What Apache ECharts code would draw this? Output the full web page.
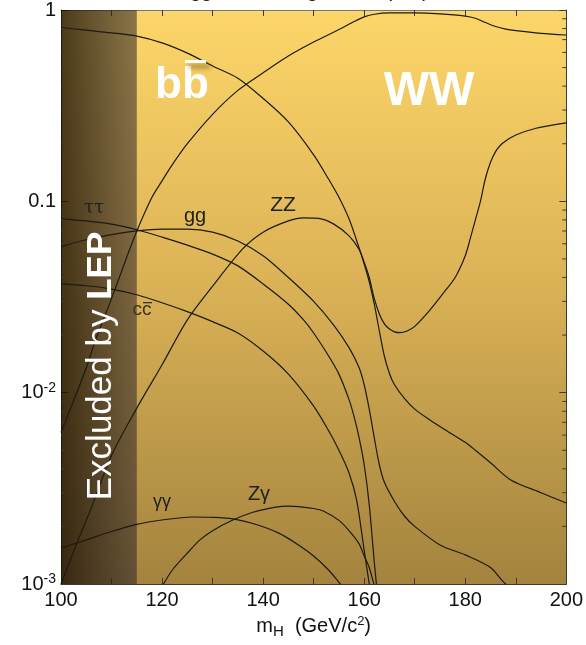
<!DOCTYPE html>
<html><head><meta charset="utf-8">
<script src="https://cdn.jsdelivr.net/npm/echarts@6/dist/echarts.min.js"></script>
<style>html,body{margin:0;padding:0;background:#fff}#c{width:586px;height:645px}</style>
</head><body><div id="c"></div>
<script>
// ---- data (Higgs branching ratios vs mass) ----
const bbMass = [100,105,110,115,120,125,130,135,140,145,150,153,155,157,159,160,161,162,163,164,165,166,168,170,173,176,180,182,185,189,195,200];
const bbBR   = [0.81,0.785,0.76,0.73,0.673,0.595,0.51,0.44,0.345,0.26,0.175,0.13,0.105,0.081,0.057,0.047,0.038,0.029,0.021,0.0155,0.0126,0.011,0.0093,0.0082,0.0072,0.0064,0.0055,0.005,0.0043,0.0035,0.003,0.00265];
const wwMass = [100,103,105,107,110,113,115,118,120,122,125,130,135,140,145,150,155,158,160,162,165,170,175,180,182,184,186,188,190,195,200];
const wwBR   = [0.0062,0.0098,0.0135,0.0194,0.031,0.051,0.07,0.105,0.128,0.155,0.20,0.285,0.38,0.47,0.575,0.68,0.79,0.87,0.92,0.95,0.965,0.965,0.955,0.93,0.905,0.86,0.82,0.795,0.78,0.755,0.74];
const zzMass = [100,103,106,110,115,120,125,130,136,140,145,148,151,154,157,159,160,161,162,163,164,165,166,167,168.5,170,173,176,178,180,181,182,183,184,185,186,187,188,190,194,200];
const zzBR   = [0.001,0.0016,0.0025,0.0047,0.0083,0.014,0.024,0.036,0.0566,0.069,0.079,0.082,0.0815,0.076,0.066,0.056,0.048,0.040,0.031,0.0258,0.0229,0.0215,0.0208,0.0206,0.021,0.0222,0.027,0.034,0.040,0.052,0.064,0.080,0.100,0.132,0.160,0.182,0.197,0.207,0.222,0.241,0.257];
const ttMass = [100,105,110,115,120,125,130,135,140,145,148,150,153,155,157,158,159,160,161,162,163];
const ttBR   = [0.081,0.079,0.076,0.071,0.065,0.059,0.053,0.046,0.037,0.029,0.024,0.0205,0.0155,0.0125,0.0092,0.0075,0.0058,0.0042,0.0026,0.0013,0.0007];
const ggMass = [100,105,110,115,120,125,130,135,140,145,150,154,157,159,160,161,162,163,164,166,168,170,175,180,185,188,192,200];
const ggBR   = [0.058,0.063,0.067,0.070,0.0715,0.0715,0.069,0.062,0.052,0.040,0.030,0.0225,0.0172,0.0135,0.011,0.0082,0.0058,0.0042,0.0034,0.0027,0.00226,0.002,0.0016,0.00142,0.00122,0.001,0.0009,0.00075];
const ccMass = [100,105,110,115,120,125,130,135,140,145,150,153,155,157,158.5,160,161,162];
const ccBR   = [0.037,0.0362,0.0348,0.0325,0.0295,0.0265,0.0235,0.0205,0.0165,0.0125,0.0085,0.0063,0.005,0.0038,0.00275,0.0015,0.001,0.0007];
const aaMass = [100,105,110,115,120,126,130,134,138,143,147,150,153,155,157,159];
const aaBR   = [0.00154,0.0017,0.00188,0.00205,0.00216,0.00224,0.00223,0.00219,0.00207,0.00185,0.0016,0.0014,0.00118,0.00102,0.00088,0.0007];
const zaMass = [119.5,122,125,127.5,130,134,138,142.5,145,147,150,152,155,157,159,160,161,162,163];
const zaBR   = [0.00092,0.00118,0.00145,0.0017,0.0019,0.00216,0.00237,0.00252,0.00255,0.00254,0.00248,0.0024,0.00215,0.0019,0.00162,0.0014,0.00122,0.00098,0.0008];

const xTickLabels = ['100','120','140','160','180','200'];
const yTickValues = [0.001, 0.01, 0.1, 1];
const yTickLabels = ['10^-3', '10^-2', '0.1', '1'];
const yMinorTicks = [0.002,0.003,0.004,0.005,0.006,0.007,0.008,0.009,
                     0.02,0.03,0.04,0.05,0.06,0.07,0.08,0.09,
                     0.2,0.3,0.4,0.5,0.6,0.7,0.8,0.9];
const lepLimit = 115;
const massMin = 100, massMax = 200;

// ---- chart ----
const chart = echarts.init(document.getElementById('c'), null, {renderer:'canvas'});
const LG = echarts.graphic.LinearGradient;
const lineColor = '#1d1a12';

function curve(name, xs, ys) {
  return {
    type: 'line', name: name,
    data: xs.map((x, i) => [x, ys[i]]),
    showSymbol: false, symbol: 'none', smooth: 0.3,
    lineStyle: {color: lineColor, width: 1.2}, z: 3, silent: true, clip: true
  };
}

function yFmt(v) {
  let idx = -1;
  yTickValues.forEach((t, i) => { if (Math.abs(Math.log10(v) - Math.log10(t)) < 1e-6) idx = i; });
  if (idx < 0) return '';
  const s = yTickLabels[idx];
  if (s.indexOf('^') >= 0) {
    const p = s.split('^');
    return '{n|' + p[0] + '}{s|' + p[1] + '}';
  }
  return '{n|' + s + '}';
}

const axisLine = {show: true, lineStyle: {color: '#3a3a3a', width: 1}};
const tickStyle = {show: true, inside: true, length: 6, lineStyle: {color: '#3a3a3a', width: 1}};
const labelFont = {fontFamily: 'Liberation Sans', fontSize: 20, color: '#111'};

const option = {
  animation: false,
  backgroundColor: '#ffffff',
  grid: {
    left: 61, right: 17, top: 9, bottom: 61, show: true, borderWidth: 0,
    backgroundColor: new LG(0, 0, 0, 1, [
      {offset: 0, color: '#FDD669'},
      {offset: 0.45, color: '#DDB457'},
      {offset: 1, color: '#A3833E'}
    ])
  },
  xAxis: [{
    type: 'value', min: massMin, max: massMax, interval: 10, position: 'bottom',
    axisLine: axisLine, axisTick: tickStyle, splitLine: {show: false},
    axisLabel: Object.assign({margin: 6, formatter: v => {
      const s = String(Math.round(v)); return xTickLabels.indexOf(s) >= 0 ? s : '';
    }}, labelFont),
    name: '{a|m}{sub|H}{a|  (GeV/c}{sup|2}{a|)}',
    nameLocation: 'middle', nameGap: 27,
    nameTextStyle: {rich: {
      a: {fontFamily: 'Liberation Sans', fontSize: 20, color: '#111'},
      sub: {fontFamily: 'Liberation Sans', fontSize: 15, color: '#111', padding: [10, 0, 0, 0]},
      sup: {fontFamily: 'Liberation Sans', fontSize: 13, color: '#111', padding: [0, 0, 10, 0]}
    }}
  }, {
    type: 'value', min: massMin, max: massMax, interval: 10, position: 'top',
    axisLine: {show: true, lineStyle: {color: '#777', width: 1}},
    axisTick: tickStyle, axisLabel: {show: false}, splitLine: {show: false}
  }],
  yAxis: [{
    type: 'log', logBase: 10, min: 0.001, max: 1, position: 'left',
    axisLine: axisLine, axisTick: Object.assign({}, tickStyle, {length: 7}), splitLine: {show: false},
    axisLabel: {margin: 5, formatter: yFmt, rich: {
      n: {fontFamily: 'Liberation Sans', fontSize: 20, color: '#111'},
      s: {fontFamily: 'Liberation Sans', fontSize: 14, color: '#111', padding: [0, 0, 10, 0]}
    }}
  }, {
    type: 'log', logBase: 10, min: 0.001, max: 1, position: 'right',
    axisLine: axisLine, axisTick: Object.assign({}, tickStyle, {length: 7}),
    axisLabel: {show: false}, splitLine: {show: false}
  }],
  series: [
    {
      type: 'line', data: [], z: 1, silent: true,
      markArea: {
        silent: true,
        itemStyle: {
          color: new LG(0, 0, 1, 0, [
            {offset: 0, color: 'rgba(20,10,0,0.76)'},
            {offset: 1, color: 'rgba(50,42,45,0.56)'}
          ])
        },
        data: [[{xAxis: massMin}, {xAxis: lepLimit}]]
      }
    },
    curve('bb', bbMass, bbBR),
    curve('WW', wwMass, wwBR),
    curve('ZZ', zzMass, zzBR),
    curve('tautau', ttMass, ttBR),
    curve('gg', ggMass, ggBR),
    curve('cc', ccMass, ccBR),
    curve('gammagamma', aaMass, aaBR),
    curve('Zgamma', zaMass, zaBR),
    {
      type: 'custom', silent: true, z: 4,
      data: yMinorTicks.map(v => [massMin, v]),
      renderItem: function (params, api) {
        const v = api.value(1);
        const L = api.coord([massMin, v]);
        const R = api.coord([massMax, v]);
        const st = {stroke: '#3a3a3a', lineWidth: 1};
        return {type: 'group', children: [
          {type: 'line', shape: {x1: L[0], y1: L[1], x2: L[0] + 4, y2: L[1]}, style: st},
          {type: 'line', shape: {x1: R[0] - 4, y1: R[1], x2: R[0], y2: R[1]}, style: st}
        ]};
      }
    }
  ],
  graphic: [
    {type: 'text', x: 300, y: -9, z: 10, style: {text: 'Higgs Branching Ratios (SM)', font: '20px "Liberation Sans"', fill: '#111', align: 'center', verticalAlign: 'middle'}},
    {type: 'text', x: 101, y: 366, rotation: Math.PI / 2, z: 10, style: {
      text: '{a|Excluded by }{b|LEP}', align: 'center', verticalAlign: 'middle',
      rich: {
        a: {fontFamily: 'Liberation Sans', fontSize: 35, fill: '#ffffff'},
        b: {fontFamily: 'Liberation Sans', fontSize: 35, fontWeight: 'bold', fill: '#ffffff'}
      }
    }},
    {type: 'text', x: 182, y: 86, z: 10, style: {
      text: 'bb', font: 'bold 44px "Liberation Sans"', fill: '#ffffff', align: 'center', verticalAlign: 'middle',
      shadowColor: 'rgba(70,48,0,0.8)', shadowBlur: 7, shadowOffsetX: 5, shadowOffsetY: 7
    }},
    {type: 'rect', z: 10, shape: {x: 185, y: 60, width: 21, height: 3}, style: {fill: '#ffffff', shadowColor: 'rgba(70,48,0,0.6)', shadowBlur: 5, shadowOffsetX: 4, shadowOffsetY: 5}},
    {type: 'text', x: 429, y: 92, z: 10, style: {
      text: 'WW', font: 'bold 48px "Liberation Sans"', fill: '#ffffff', align: 'center', verticalAlign: 'middle',
      shadowColor: 'rgba(70,48,0,0.85)', shadowBlur: 7, shadowOffsetX: 5, shadowOffsetY: 7
    }},
    {type: 'text', x: 94, y: 208, z: 10, style: {text: 'ττ', font: '18px "DejaVu Serif"', fill: '#222', align: 'center', verticalAlign: 'middle'}},
    {type: 'text', x: 195, y: 216, z: 10, style: {text: 'gg', font: '20px "Liberation Sans"', fill: '#222', align: 'center', verticalAlign: 'middle'}},
    {type: 'text', x: 283, y: 205, z: 10, style: {text: 'ZZ', font: '21px "Liberation Sans"', fill: '#222', align: 'center', verticalAlign: 'middle'}},
    {type: 'text', x: 142, y: 310, z: 10, style: {text: 'cc', font: '19px "Liberation Sans"', fill: '#3a3426', align: 'center', verticalAlign: 'middle'}},
    {type: 'rect', z: 10, shape: {x: 143, y: 302, width: 9, height: 1.3}, style: {fill: '#3a3426'}},
    {type: 'text', x: 162, y: 502, z: 10, style: {text: 'γγ', font: '18px "Liberation Sans"', fill: '#222', align: 'center', verticalAlign: 'middle'}},
    {type: 'text', x: 259, y: 494, z: 10, style: {text: 'Zγ', font: '20px "Liberation Sans"', fill: '#222', align: 'center', verticalAlign: 'middle'}}
  ]
};
chart.setOption(option);
</script>
</body></html>
